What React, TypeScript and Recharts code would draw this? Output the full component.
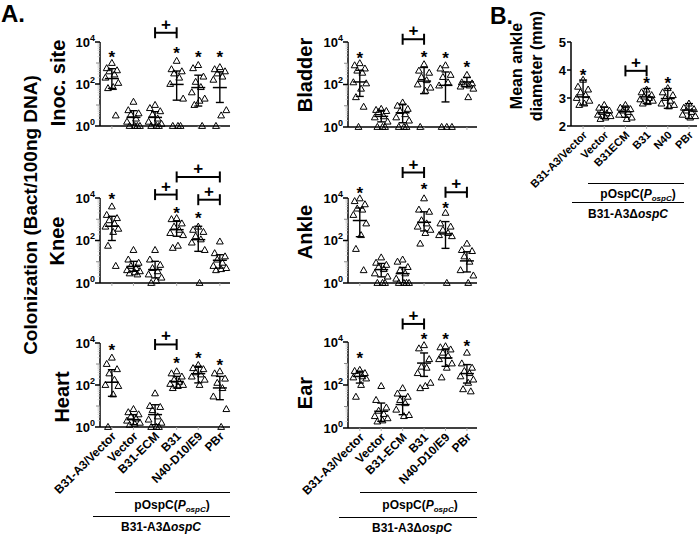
import React from "react";
import { ScatterChart, Scatter, XAxis, YAxis, ErrorBar, ReferenceLine, ReferenceDot } from "recharts";

const FONT = "'Liberation Sans', Arial, Helvetica, sans-serif";

const GROUPS_A = ["B31-A3/Vector", "Vector", "B31-ECM", "B31", "N40-D10/E9", "PBr"];
const GROUPS_B = ["B31-A3/Vector", "Vector", "B31ECM", "B31", "N40", "PBr"];

// colonization values as log10(Bact/100ng DNA), one list per group
const INOC = [
  [3.0, 2.75, 2.65, 2.6, 2.45, 2.3, 2.05, 1.85, 1.8, 0.5],
  [1.15, 0.75, 0.6, 0.55, 0.35, 0.2, 0, 0, 0, 0],
  [1.0, 0.85, 0.7, 0.55, 0.35, 0.2, 0.1, 0, 0, 0],
  [3.1, 2.7, 2.6, 2.5, 2.3, 2.0, 1.3, 0, 0, 0],
  [2.9, 2.75, 2.35, 2.1, 1.85, 1.6, 1.3, 1.2, 1.0, 0],
  [2.8, 2.7, 2.6, 2.5, 2.35, 2.2, 0.75, 0.5, 0],
];
// [mean, low, high] per group
const INOC_STATS = [[2.26, 1.79, 2.73], [0.41, 0.05, 0.73], [0.41, 0.05, 0.68], [1.98, 1.23, 2.62], [1.83, 0.95, 2.42], [1.83, 1.12, 2.58]];
const INOC_STARS = [3.45, null, null, 3.6, 3.45, 3.45];

const BLADDER = [
  [3.0, 2.9, 2.75, 2.65, 2.55, 2.1, 2.05, 1.8, 1.4, 0.95, 0],
  [0.85, 0.8, 0.75, 0.7, 0.5, 0.45, 0.25, 0, 0, 0],
  [1.15, 1.0, 0.85, 0.75, 0.6, 0.45, 0.3, 0, 0, 0],
  [2.95, 2.65, 2.55, 2.35, 2.2, 2.0, 1.85, 1.7, 0],
  [2.9, 2.75, 2.45, 2.35, 2.1, 1.95, 0, 0, 0],
  [2.45, 2.1, 2.05, 2.0, 1.95, 1.9, 1.8, 1.4],
];
const BLADDER_STATS = [[2.12, 1.44, 2.67], [0.5, 0.24, 0.78], [0.67, 0.2, 1.07], [2.16, 1.57, 2.8], [1.96, 1.18, 2.59], [2.12, 1.9, 2.33]];
const BLADDER_STARS = [3.37, null, null, 3.42, 3.37, 2.98];

const KNEE = [
  [3.6, 3.2, 3.05, 2.95, 2.8, 2.65, 2.55, 2.4, 1.75, 0.8],
  [1.55, 1.1, 0.95, 0.8, 0.7, 0.6, 0.55, 0.5, 0.45, 0.4],
  [1.55, 1.1, 0.85, 0.7, 0.55, 0.4, 0.25, 0.1, 0],
  [3.05, 3.0, 2.8, 2.65, 2.5, 2.35, 2.25, 1.75, 1.65],
  [2.65, 2.5, 2.4, 2.2, 2.05, 1.9, 1.55, 0],
  [1.95, 1.4, 1.25, 1.1, 0.95, 0.8, 0.7, 0.65, 0.6],
];
const KNEE_STATS = [[2.67, 2.0, 3.14], [0.78, 0.55, 1.02], [0.63, 0.24, 1.02], [2.51, 2.2, 2.9], [2.04, 1.49, 2.67], [1.07, 0.7, 1.33]];
const KNEE_STARS = [4.08, null, null, 3.45, 3.18, null];

const ANKLE = [
  [3.98, 3.85, 3.7, 3.5, 3.45, 3.2, 2.8, 2.25, 1.6, 0.6],
  [1.2, 0.95, 0.85, 0.75, 0.65, 0.45, 0.3, 0, 0, 0],
  [1.1, 1.0, 0.75, 0.6, 0.45, 0.2, 0, 0, 0, 0],
  [3.98, 3.45, 3.35, 2.95, 2.8, 2.65, 2.5, 2.35, 1.85],
  [3.3, 2.8, 2.65, 2.5, 2.35, 2.25, 2.2, 0],
  [1.85, 1.55, 1.5, 1.25, 1.0, 0.6, 0.35, 0],
];
const ANKLE_STATS = [[2.94, 2.18, 3.53], [0.63, 0.29, 0.92], [0.44, 0, 0.73], [2.86, 2.45, 3.35], [2.31, 1.63, 2.89], [1.04, 0.52, 1.47]];
const ANKLE_STARS = [4.4, null, null, 4.55, 3.68, null];

const HEART = [
  [3.3, 3.0, 2.75, 2.55, 2.25, 2.0, 1.95, 1.55, 0],
  [0.85, 0.7, 0.6, 0.5, 0.4, 0.3, 0.2, 0.15, 0.1],
  [1.6, 1.0, 0.95, 0.8, 0.5, 0.35, 0.2, 0, 0, 0],
  [2.65, 2.55, 2.4, 2.25, 2.15, 2.05, 2.0, 1.95, 1.85],
  [2.95, 2.8, 2.75, 2.6, 2.5, 2.4, 2.25, 2.0],
  [2.65, 2.55, 2.3, 2.1, 1.85, 1.45, 0.85, 0],
];
const HEART_STATS = [[2.13, 1.46, 2.73], [0.35, 0.11, 0.59], [0.59, 0.11, 1.06], [2.17, 1.86, 2.41], [2.54, 2.1, 2.89], [1.86, 1.3, 2.41]];
const HEART_STARS = [3.81, null, null, 3.17, 3.41, 3.1];

const EAR = [
  [2.7, 2.65, 2.55, 2.5, 2.4, 2.35, 2.3, 2.0, 1.45],
  [1.95, 1.3, 0.95, 0.8, 0.65, 0.55, 0.45, 0.35, 0.3],
  [1.85, 1.6, 1.45, 1.3, 1.15, 0.85, 0.6, 0.55],
  [3.85, 3.7, 3.2, 2.85, 2.8, 2.55, 2.1, 1.95, 1.85],
  [3.8, 3.75, 3.65, 3.5, 3.35, 3.2, 3.0, 2.8, 2.35],
  [3.5, 3.0, 2.8, 2.65, 2.55, 2.4, 2.25, 2.1, 1.8, 1.7],
];
const EAR_STATS = [[2.4, 2.09, 2.64], [0.78, 0.31, 1.16], [1.09, 0.62, 1.47], [3.02, 2.4, 3.49], [3.26, 2.87, 3.64], [2.53, 2.09, 2.95]];
const EAR_STARS = [3.41, null, null, 4.26, 4.26, 3.95];

// mean ankle diameter (mm)
const DIAM = [
  [3.65, 3.4, 3.3, 3.2, 3.1, 3.0, 2.9, 2.8, 2.75],
  [2.75, 2.65, 2.55, 2.5, 2.45, 2.4, 2.35, 2.3, 2.25],
  [2.75, 2.65, 2.6, 2.55, 2.5, 2.4, 2.3, 2.25],
  [3.3, 3.2, 3.1, 3.05, 3.0, 2.95, 2.9, 2.85, 2.8],
  [3.35, 3.2, 3.1, 3.0, 2.9, 2.8, 2.75, 2.7],
  [2.8, 2.65, 2.6, 2.55, 2.5, 2.4, 2.35, 2.3],
];
const DIAM_STATS = [[3.04, 2.75, 3.64], [2.47, 2.27, 2.68], [2.51, 2.31, 2.71], [3.04, 2.8, 3.34], [2.98, 2.63, 3.34], [2.57, 2.27, 2.8]];
const DIAM_STARS = [3.93, null, null, 3.64, 3.64, null];

const LOG_TICKS: number[] = [];
for (let d = 0; d < 4; d++) for (let k = 1; k < 10; k++) LOG_TICKS.push(k * 10 ** d);
LOG_TICKS.push(10000);
const LIN_TICKS = [2, 3, 4, 5];

// horizontal spread of the points inside a group (category units)
const JITTER = [0, -0.24, 0.24, -0.12, 0.12, -0.3, 0.3, 0.06, -0.18, 0.18, -0.06];
const TOP = 52;
const AXIS_LINE = { stroke: "#000", strokeWidth: 1.5 };

const LogTick = (props: any) => {
  const { x, y, payload } = props;
  const v = payload.value;
  const e = Math.round(Math.log10(v));
  const decade = Math.abs(10 ** e - v) < 1e-6;
  if (decade && e % 2 === 0) {
    return (
      <g>
        <line x1={x - 5} x2={x} y1={y} y2={y} stroke="#000" strokeWidth={1.5} />
        <text x={x - 5} y={y} dy="0.36em" textAnchor="end" fontSize={13} fontWeight="bold" fontFamily={FONT} fill="#000">
          10<tspan dy={-6} fontSize={9}>{e}</tspan>
        </text>
      </g>
    );
  }
  if (decade) return <line x1={x - 4} x2={x} y1={y} y2={y} stroke="#888" strokeWidth={1} />;
  return <line x1={x - 2.5} x2={x} y1={y} y2={y} stroke="#ccc" strokeWidth={0.8} />;
};

const LinTick = (props: any) => {
  const { x, y, payload } = props;
  return (
    <g>
      <line x1={x - 4} x2={x} y1={y} y2={y} stroke="#000" strokeWidth={1.5} />
      <text x={x - 5} y={y} dy="0.36em" textAnchor="end" fontSize={13} fontWeight="bold" fontFamily={FONT} fill="#000">
        {payload.value}
      </text>
    </g>
  );
};

const CatTick = (props: any) => {
  const { x, y, payload, labels, size } = props;
  return (
    <text x={x + 2} y={y + 2} transform={`rotate(-45 ${x + 2} ${y + 2})`} dy="0.35em" textAnchor="end"
      fontSize={size} fontWeight="bold" fontFamily={FONT} fill="#000">
      {labels[payload.value - 1]}
    </text>
  );
};

const NoTick = () => <g />;

const triShape = (props: any) => {
  const { cx, cy } = props;
  return <polygon points={`${cx},${cy - 3.6} ${cx - 3.4},${cy + 2.4} ${cx + 3.4},${cy + 2.4}`} fill="none" stroke="#000" strokeWidth={1} />;
};

const meanShape = (props: any) => (
  <line x1={props.cx - 7} x2={props.cx + 7} y1={props.cy} y2={props.cy} stroke="#000" strokeWidth={1.5} />
);

const starShape = (props: any) => (
  <text x={props.cx} y={props.cy} dy={9} textAnchor="middle" fontSize={17} fontWeight="bold" fontFamily={FONT} fill="#000">*</text>
);

const bracketShape = (props: any) => {
  const { x1, x2, y1 } = props;
  return (
    <g>
      <line x1={x1} x2={x2} y1={y1} y2={y1} stroke="#000" strokeWidth={2} />
      <line x1={x1} x2={x1} y1={y1 - 5.5} y2={y1 + 5.5} stroke="#000" strokeWidth={2} />
      <line x1={x2} x2={x2} y1={y1 - 5.5} y2={y1 + 5.5} stroke="#000" strokeWidth={2} />
      <text x={(x1 + x2) / 2} y={y1 - 3} textAnchor="middle" fontSize={17} fontWeight="bold" fontFamily={FONT} fill="#000">+</text>
    </g>
  );
};

interface PanelProps {
  left: number;
  top: number;
  axisW: number;
  plotW: number;
  plotH: number;
  bottomH: number;
  groups: number[][];
  stats: number[][];
  stars: (number | null)[];
  brackets: number[][];
  log: boolean;
  domainX: number[];
  labels?: string[];
  labelSize?: number;
}

function Panel(p: PanelProps) {
  const toY = (v: number) => (p.log ? 10 ** v : v);
  const points = p.groups.flatMap((vals, g) =>
    vals.map((v, i) => ({ x: g + 1 + JITTER[i % JITTER.length], y: toY(v) }))
  );
  const summary = p.stats.map(([m, lo, hi], g) => ({
    x: g + 1,
    y: toY(m),
    err: [toY(m) - toY(lo), toY(hi) - toY(m)],
  }));
  return (
    <div style={{ position: "absolute", left: p.left, top: p.top }}>
      <ScatterChart width={p.axisW + p.plotW + 3} height={TOP + p.plotH + p.bottomH}
        margin={{ top: TOP, right: 3, bottom: 0, left: 0 }}>
        <XAxis type="number" dataKey="x" domain={p.domainX} ticks={[1, 2, 3, 4, 5, 6]} interval={0}
          height={p.bottomH} axisLine={AXIS_LINE} tickLine={{ stroke: "#aaa" }} tickSize={3}
          tick={p.labels ? <CatTick labels={p.labels} size={p.labelSize} /> : <NoTick />} />
        <YAxis type="number" dataKey="y" scale={p.log ? "log" : "linear"} domain={p.log ? [1, 10000] : [2, 5]}
          ticks={p.log ? LOG_TICKS : LIN_TICKS} interval={0} width={p.axisW} axisLine={AXIS_LINE}
          tickLine={false} tickSize={0} tickMargin={0} tick={p.log ? <LogTick /> : <LinTick />} />
        <Scatter data={points} shape={triShape} isAnimationActive={false} />
        <Scatter data={summary} shape={meanShape} isAnimationActive={false}>
          <ErrorBar dataKey="err" direction="y" width={4} stroke="#000" strokeWidth={1.4} isAnimationActive={false} />
        </Scatter>
        {p.stars.map((s, g) =>
          s == null ? null : (
            <ReferenceDot key={`s${g}`} x={g + 1} y={toY(s)} ifOverflow="visible" shape={starShape} />
          )
        )}
        {p.brackets.map(([a, b, lvl], i) => (
          <ReferenceLine key={`b${i}`} ifOverflow="visible" shape={bracketShape}
            segment={[{ x: a, y: toY(lvl) }, { x: b, y: toY(lvl) }]} />
        ))}
      </ScatterChart>
    </div>
  );
}

const Rot = ({ x, y, size, children }: any) => (
  <div style={{
    position: "absolute", left: x, top: y, transform: "translate(-50%, -50%) rotate(-90deg)",
    whiteSpace: "nowrap", fontSize: size, fontWeight: "bold", fontFamily: FONT, lineHeight: 1.25, textAlign: "center",
  }}>
    {children}
  </div>
);

const HLine = ({ x1, x2, y }: any) => (
  <div style={{ position: "absolute", left: x1, top: y, width: x2 - x1, borderTop: "1.6px solid #000" }} />
);

const Label = ({ x, y, children }: any) => (
  <div style={{
    position: "absolute", left: x, top: y, transform: "translate(-50%, -50%)", whiteSpace: "nowrap",
    fontSize: 12, fontWeight: "bold", fontFamily: FONT, lineHeight: 1,
  }}>
    {children}
  </div>
);

const Plasmid = () => (
  <span>pOspC(<i>P<sub style={{ fontSize: 8, verticalAlign: "-3px" }}>ospC</sub></i>)</span>
);
const Strain = () => (
  <span>B31-A3Δ<i>ospC</i></span>
);

const DOM_A = [0.45, 6.47];
const DOM_B = [0.43, 6.38];

export default function App() {
  return (
    <div style={{ position: "absolute", left: 0, top: 0, width: 700, height: 534, overflow: "hidden", background: "#fff", fontFamily: FONT }}>
      <Panel left={50} top={42 - TOP} axisW={50} plotW={130} plotH={84} bottomH={10} log domainX={DOM_A}
        groups={INOC} stats={INOC_STATS} stars={INOC_STARS} brackets={[[3, 4, 4.44]]} />
      <Panel left={50} top={198 - TOP} axisW={50} plotW={130} plotH={85} bottomH={10} log domainX={DOM_A}
        groups={KNEE} stats={KNEE_STATS} stars={KNEE_STARS} brackets={[[3, 4, 4.16], [4, 6, 4.99], [5, 6, 3.92]]} />
      <Panel left={50} top={343 - TOP} axisW={50} plotW={130} plotH={84} bottomH={90} log domainX={DOM_A}
        groups={HEART} stats={HEART_STATS} stars={HEART_STARS} brackets={[[3, 4, 3.93]]} labels={GROUPS_A} labelSize={12} />
      <Panel left={298} top={42 - TOP} axisW={50} plotW={129} plotH={85} bottomH={10} log domainX={DOM_A}
        groups={BLADDER} stats={BLADDER_STATS} stars={BLADDER_STARS} brackets={[[3, 4, 4.13]]} />
      <Panel left={298} top={198 - TOP} axisW={50} plotW={129} plotH={85} bottomH={10} log domainX={DOM_A}
        groups={ANKLE} stats={ANKLE_STATS} stars={ANKLE_STARS} brackets={[[3, 4, 5.2], [5, 6, 4.27]]} />
      <Panel left={298} top={342 - TOP} axisW={50} plotW={129} plotH={86} bottomH={90} log domainX={DOM_A}
        groups={EAR} stats={EAR_STATS} stars={EAR_STARS} brackets={[[3, 4, 4.84]]} labels={GROUPS_A} labelSize={12} />
      <Panel left={521} top={42 - TOP} axisW={50} plotW={126} plotH={84} bottomH={70} log={false} domainX={DOM_B}
        groups={DIAM} stats={DIAM_STATS} stars={DIAM_STARS} brackets={[[3, 4, 3.97]]} labels={GROUPS_B} labelSize={11} />

      <div style={{ position: "absolute", left: 1, top: 0, fontSize: 24, fontWeight: "bold" }}>A.</div>
      <div style={{ position: "absolute", left: 490, top: 3, fontSize: 23, fontWeight: "bold" }}>B.</div>

      <Rot x={31} y={215} size={19}>Colonization (Bact/100ng DNA)</Rot>
      <Rot x={58} y={83} size={20}>Inoc. site</Rot>
      <Rot x={57} y={241} size={20}>Knee</Rot>
      <Rot x={62} y={397} size={20}>Heart</Rot>
      <Rot x={305} y={75} size={20}>Bladder</Rot>
      <Rot x={305} y={232} size={20}>Ankle</Rot>
      <Rot x={305} y={393} size={20}>Ear</Rot>
      <Rot x={527} y={66} size={16}>Mean ankle<br />diameter (mm)</Rot>

      <HLine x1={115} x2={230} y={492} />
      <Label x={172} y={506}><Plasmid /></Label>
      <HLine x1={93} x2={230} y={516} />
      <Label x={161} y={527}><Strain /></Label>

      <HLine x1={360} x2={477} y={492} />
      <Label x={420} y={506}><Plasmid /></Label>
      <HLine x1={339} x2={477} y={517} />
      <Label x={412} y={528}><Strain /></Label>

      <HLine x1={588} x2={684} y={183} />
      <Label x={638} y={195}><Plasmid /></Label>
      <HLine x1={572} x2={684} y={202} />
      <Label x={628} y={214}><Strain /></Label>
    </div>
  );
}
